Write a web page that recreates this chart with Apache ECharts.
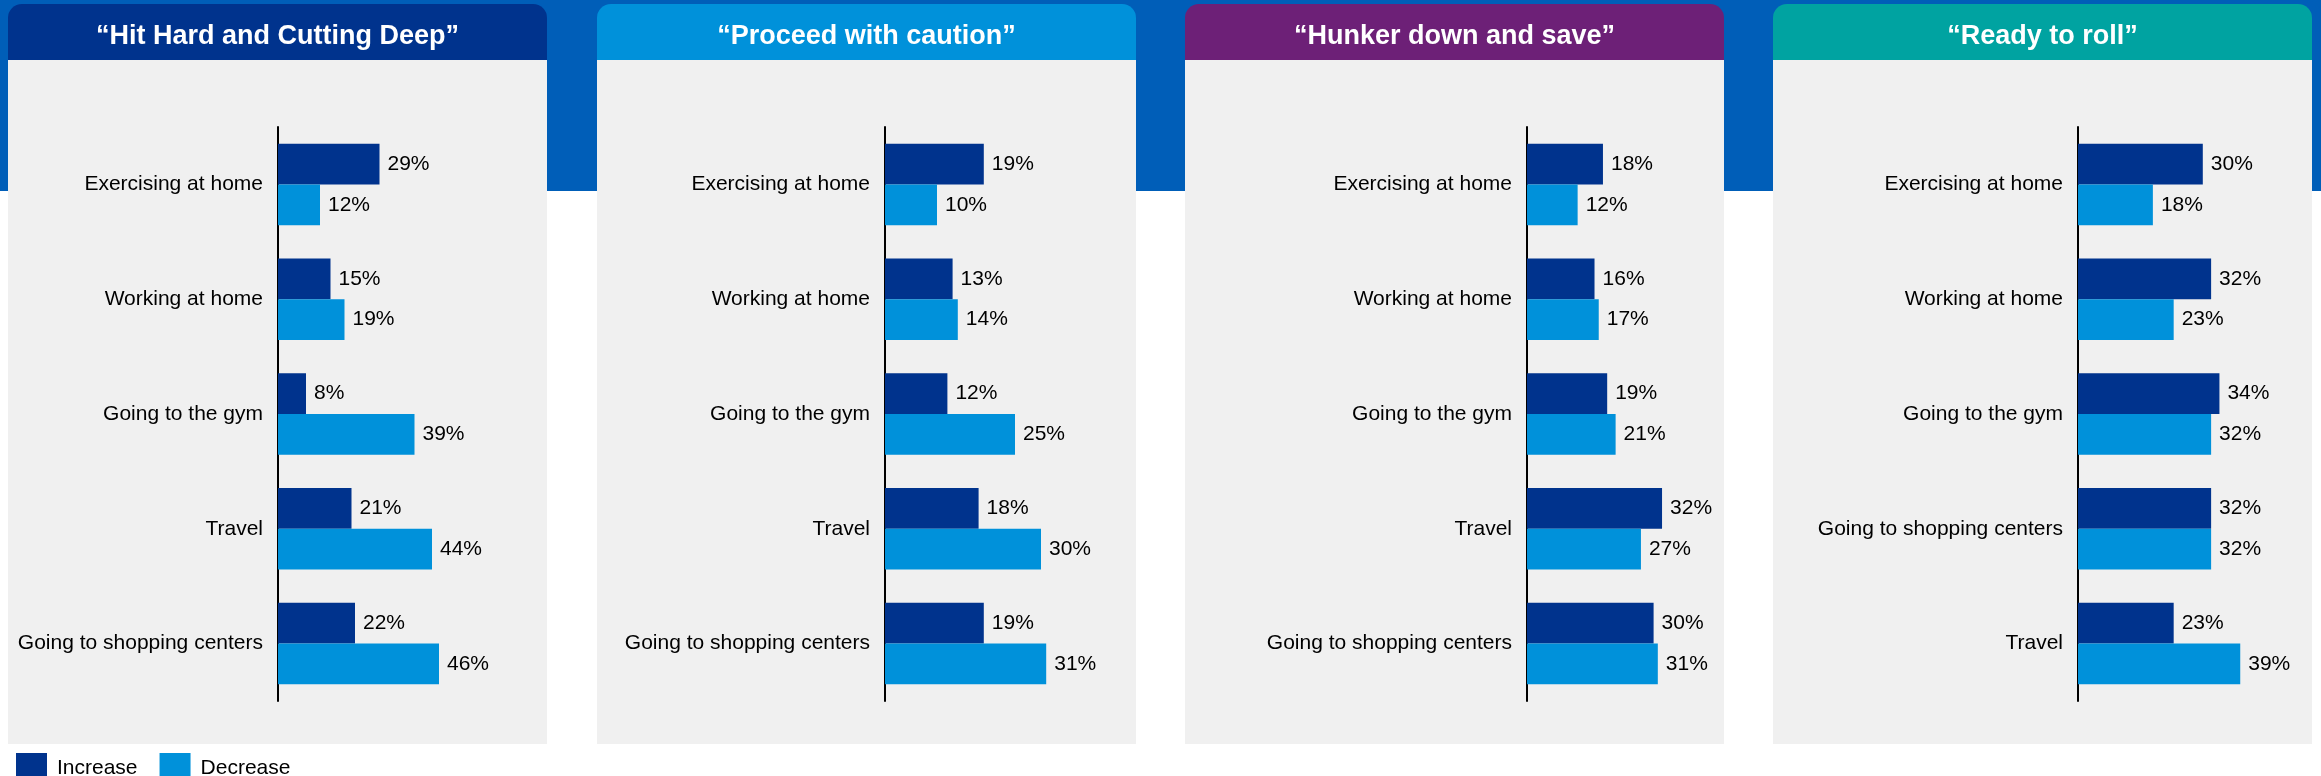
<!DOCTYPE html>
<html>
<head>
<meta charset="utf-8">
<title>Behaviour changes by segment</title>
<script src="https://cdn.jsdelivr.net/npm/echarts@6/dist/echarts.min.js"></script>
<style>
  html, body { margin: 0; padding: 0; background: #ffffff; }
  #chart { width: 2321px; height: 776px; }
</style>
</head>
<body>
<div id="chart"></div>
<script>
// Segment titles and header colours
const titles = ['“Hit Hard and Cutting Deep”', '“Proceed with caution”', '“Hunker down and save”', '“Ready to roll”'];
const headerColors = ['#00338D', '#0091DA', '#6D2077', '#00A3A1'];

// Activities (top to bottom)
const categoriesHit = ['Exercising at home', 'Working at home', 'Going to the gym', 'Travel', 'Going to shopping centers'];
const categoriesCaution = ['Exercising at home', 'Working at home', 'Going to the gym', 'Travel', 'Going to shopping centers'];
const categoriesHunker = ['Exercising at home', 'Working at home', 'Going to the gym', 'Travel', 'Going to shopping centers'];
const categoriesReady = ['Exercising at home', 'Working at home', 'Going to the gym', 'Going to shopping centers', 'Travel'];

// Share of respondents (%)
const increaseHit = [29, 15, 8, 21, 22];
const decreaseHit = [12, 19, 39, 44, 46];
const increaseCaution = [19, 13, 12, 18, 19];
const decreaseCaution = [10, 14, 25, 30, 31];
const increaseHunker = [18, 16, 19, 32, 30];
const decreaseHunker = [12, 17, 21, 27, 31];
const increaseReady = [30, 32, 34, 32, 23];
const decreaseReady = [18, 23, 32, 32, 39];

const seriesNames = ['Increase', 'Decrease'];
const seriesColors = ['#00338D', '#0091DA'];

const panels = [
  { cats: categoriesHit, inc: increaseHit, dec: decreaseHit },
  { cats: categoriesCaution, inc: increaseCaution, dec: decreaseCaution },
  { cats: categoriesHunker, inc: increaseHunker, dec: decreaseHunker },
  { cats: categoriesReady, inc: increaseReady, dec: decreaseReady }
];

// Layout of the four cards
const FONT = '"Liberation Sans", Arial, Helvetica, sans-serif';
const panelLefts = [8, 597, 1185, 1773];
const panelWidth = 539;
const axisLefts = [278, 885, 1527, 2078];
const axisMax = [50, 35, 35, 40];
const pxPerUnit = [3.5, 5.2, 4.22, 4.16];
const plotTop = 127;
const plotHeight = 574;

const grids = [], xAxes = [], yAxes = [], series = [];
const graphics = [
  { type: 'rect', z: -10, shape: { x: 0, y: 0, width: 2321, height: 191 }, style: { fill: '#005EB8' } }
];

panels.forEach((p, i) => {
  const left = panelLefts[i];
  graphics.push(
    { type: 'rect', z: -9, shape: { x: left, y: 60, width: panelWidth, height: 684 }, style: { fill: '#F0F0F0' } },
    { type: 'rect', z: -9, shape: { x: left, y: 4, width: panelWidth, height: 56, r: [14, 14, 0, 0] }, style: { fill: headerColors[i] } },
    { type: 'text', z: -8, x: left + panelWidth / 2, y: 37,
      style: { text: titles[i], fill: '#ffffff', font: 'bold 27px ' + FONT, align: 'center', verticalAlign: 'middle' } }
  );

  grids.push({ left: axisLefts[i], top: plotTop, height: plotHeight, width: axisMax[i] * pxPerUnit[i], containLabel: false });
  xAxes.push({ gridIndex: i, type: 'value', min: 0, max: axisMax[i], show: false });
  yAxes.push({
    gridIndex: i, type: 'category', data: p.cats, inverse: true,
    axisLine: { show: true, lineStyle: { color: '#000000', width: 2 } },
    axisTick: { show: false },
    splitLine: { show: false },
    axisLabel: { fontSize: 21, color: '#000000', fontFamily: FONT, margin: 15, padding: [5, 0, 0, 0] }
  });

  [p.inc, p.dec].forEach((vals, k) => {
    series.push({
      type: 'bar', name: seriesNames[k], xAxisIndex: i, yAxisIndex: i, data: vals,
      barGap: '0%', barCategoryGap: '29%',
      itemStyle: { color: seriesColors[k] },
      label: { show: true, position: 'right', distance: 8, formatter: '{c}%', fontSize: 21, color: '#000000', fontFamily: FONT },
      emphasis: { disabled: true }
    });
  });
});

const chart = echarts.init(document.getElementById('chart'), null, { renderer: 'canvas' });
chart.setOption({
  animation: false,
  backgroundColor: '#ffffff',
  graphic: graphics,
  legend: {
    data: seriesNames, left: 16, top: 753, icon: 'rect', itemWidth: 31, itemHeight: 31, itemGap: 22, padding: 0,
    selectedMode: false,
    textStyle: { fontSize: 21, color: '#000000', fontFamily: FONT, padding: [0, 0, 0, 5] }
  },
  grid: grids,
  xAxis: xAxes,
  yAxis: yAxes,
  series: series
});
</script>
</body>
</html>
